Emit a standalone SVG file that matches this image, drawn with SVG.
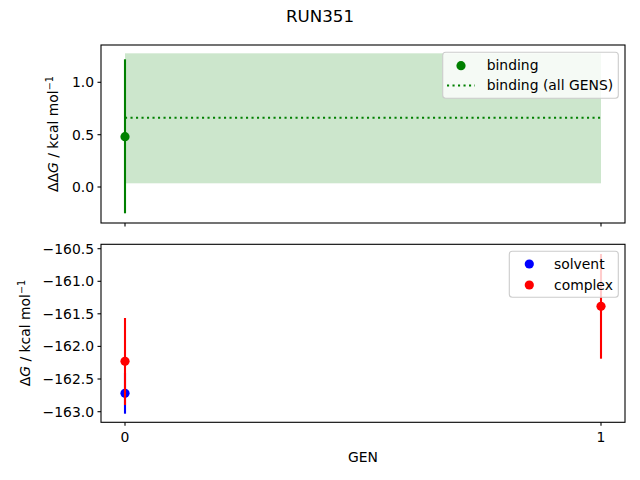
<svg xmlns="http://www.w3.org/2000/svg" width="640" height="480" viewBox="0 0 640 480">
<style>
text{font-family:"DejaVu Sans",sans-serif;font-size:13.9px;fill:#000}
.tl{text-anchor:end}
.tc{text-anchor:middle}
.spine{fill:none;stroke:#000;stroke-width:1.1}
.tick{stroke:#000;stroke-width:1.1}
.leg{fill:#fff;fill-opacity:0.8;stroke:#ccc;stroke-width:1.1}
.eg{stroke:#008000;stroke-width:2.1}
.er{stroke:#ff0000;stroke-width:2.1}
.eb{stroke:#0000ff;stroke-width:2.1}
</style>
<rect width="640" height="480" fill="#fff"/>
<text x="320" y="22" class="tc" style="font-size:16.7px">RUN351</text>

<g id="top-axes">
<rect x="125" y="53.3" width="476" height="130" fill="#008000" fill-opacity="0.2"/>
<line x1="125" y1="117.7" x2="601" y2="117.7" stroke="#008000" stroke-width="2.1" stroke-dasharray="2.1 3.4"/>
<line class="eg" x1="125" y1="59.3" x2="125" y2="213.3"/>
<circle cx="125" cy="136.7" r="4.6" fill="#008000"/>
<rect class="spine" x="101" y="45" width="524" height="178"/>
<g class="tick">
<line x1="97.5" y1="82.3" x2="101" y2="82.3"/>
<line x1="97.5" y1="134.7" x2="101" y2="134.7"/>
<line x1="97.5" y1="187" x2="101" y2="187"/>
<line x1="125" y1="223" x2="125" y2="226.5"/>
<line x1="601" y1="223" x2="601" y2="226.5"/>
</g>
<text x="94" y="87.3" class="tl">1.0</text>
<text x="94" y="139.7" class="tl">0.5</text>
<text x="94" y="192" class="tl">0.0</text>
<text transform="translate(58,134) rotate(-90)" class="tc">ΔΔ<tspan font-style="italic">G</tspan> / kcal mol<tspan dy="-5" style="font-size:9.7px">−1</tspan></text>
</g>

<g id="top-legend">
<rect class="leg" x="442.7" y="52.3" width="175.6" height="46" rx="3"/>
<circle cx="461" cy="65.7" r="4.6" fill="#008000"/>
<line x1="447" y1="85.5" x2="475" y2="85.5" stroke="#008000" stroke-width="2.1" stroke-dasharray="2.1 3.4"/>
<text x="486.7" y="70.3">binding</text>
<text x="486.7" y="90">binding (all GENS)</text>
</g>

<g id="bottom-axes">
<line class="eb" x1="125" y1="373" x2="125" y2="413.7"/>
<circle cx="125" cy="393.3" r="4.6" fill="#0000ff"/>
<line class="er" x1="125" y1="318" x2="125" y2="405"/>
<circle cx="125" cy="361.3" r="4.6" fill="#ff0000"/>
<line class="er" x1="601" y1="254" x2="601" y2="358.7"/>
<circle cx="601" cy="306.3" r="4.6" fill="#ff0000"/>
<rect class="spine" x="101" y="244.3" width="524" height="178"/>
<g class="tick">
<line x1="97.5" y1="248.7" x2="101" y2="248.7"/>
<line x1="97.5" y1="281.3" x2="101" y2="281.3"/>
<line x1="97.5" y1="313.8" x2="101" y2="313.8"/>
<line x1="97.5" y1="346.4" x2="101" y2="346.4"/>
<line x1="97.5" y1="379" x2="101" y2="379"/>
<line x1="97.5" y1="411.7" x2="101" y2="411.7"/>
<line x1="125" y1="422.3" x2="125" y2="425.8"/>
<line x1="601" y1="422.3" x2="601" y2="425.8"/>
</g>
<text x="94" y="253.7" class="tl">−160.5</text>
<text x="94" y="286.3" class="tl">−161.0</text>
<text x="94" y="318.8" class="tl">−161.5</text>
<text x="94" y="351.4" class="tl">−162.0</text>
<text x="94" y="384" class="tl">−162.5</text>
<text x="94" y="416.7" class="tl">−163.0</text>
<text x="125" y="442" class="tc">0</text>
<text x="601" y="442" class="tc">1</text>
<text x="363" y="462" class="tc">GEN</text>
<text transform="translate(30,333) rotate(-90)" class="tc">Δ<tspan font-style="italic">G</tspan> / kcal mol<tspan dy="-5" style="font-size:9.7px">−1</tspan></text>
</g>

<g id="bottom-legend">
<rect class="leg" x="509.3" y="251.3" width="109" height="46" rx="3"/>
<circle cx="529.3" cy="264" r="4.6" fill="#0000ff"/>
<circle cx="529.3" cy="285" r="4.6" fill="#ff0000"/>
<text x="554" y="268.8">solvent</text>
<text x="554" y="289.8">complex</text>
</g>
</svg>
